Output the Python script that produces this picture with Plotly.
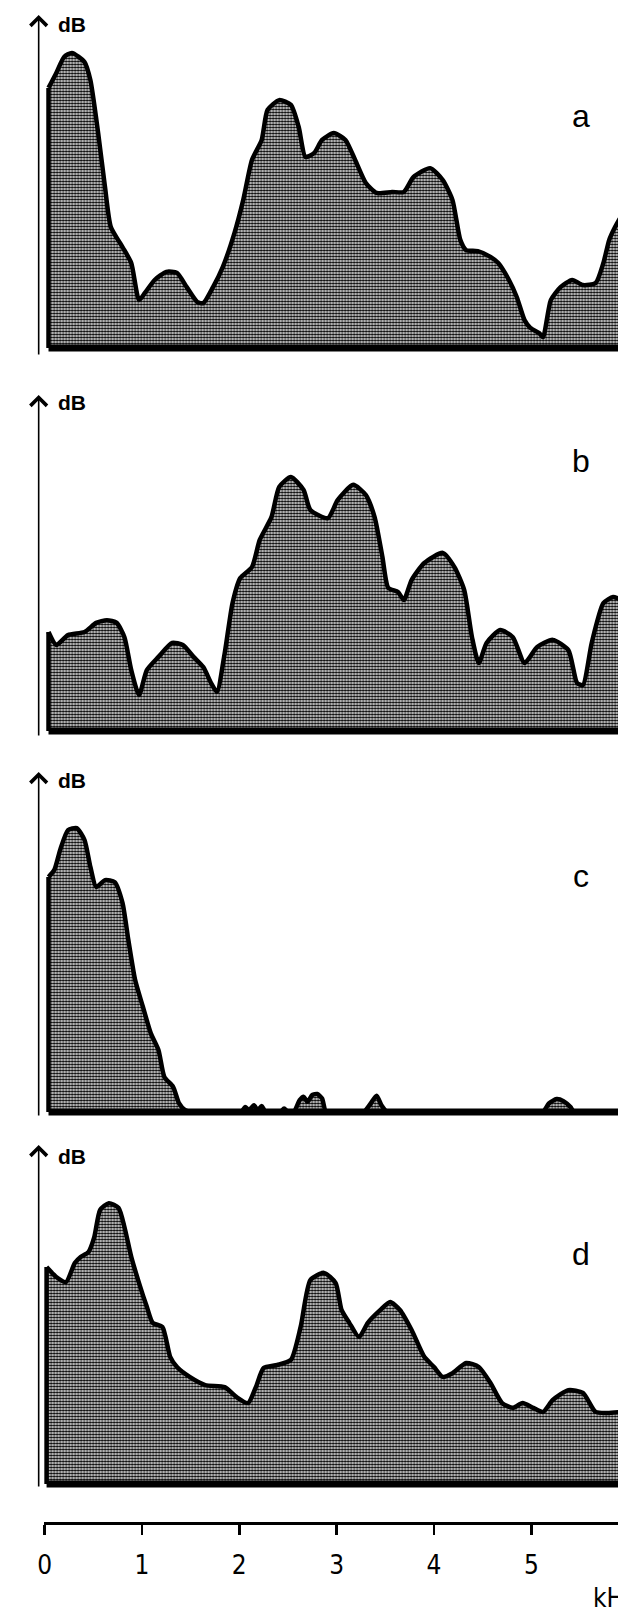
import plotly.graph_objects as go

# ---------------- data (frequency in kHz, level in relative dB) ----------------
freq_a = [0.04, 0.12, 0.20, 0.28, 0.41, 0.47, 0.55, 0.62, 0.68, 0.80,
          0.89, 0.97, 1.03, 1.13, 1.25, 1.36, 1.46, 1.57, 1.63, 1.73,
          1.83, 1.95, 2.04, 2.13, 2.23, 2.29, 2.41, 2.53, 2.61, 2.68,
          2.77, 2.85, 2.97, 3.09, 3.19, 3.30, 3.41, 3.57, 3.69, 3.79,
          3.96, 4.09, 4.19, 4.27, 4.33, 4.45, 4.58, 4.66, 4.77, 4.85, 4.93,
          4.99, 5.08, 5.12, 5.20, 5.30, 5.42, 5.53, 5.66, 5.74, 5.80,
          5.86, 5.93]
db_a = [76.5, 80.9, 85.6, 86.8, 84.1, 78.8, 63.2, 47.4, 35.6, 29.7,
        25.0, 14.1, 16.2, 20.0, 22.4, 22.1, 17.9, 13.5, 13.2, 17.9,
        23.8, 33.8, 43.5, 55.3, 61.2, 70.0, 72.9, 71.5, 65.0, 56.2,
        57.4, 61.2, 63.2, 61.2, 55.3, 48.5, 45.6, 45.9, 45.9, 50.3,
        52.9, 49.4, 43.5, 31.8, 28.8, 28.5, 26.8, 25.0, 20.0, 15.0, 8.2,
        5.9, 4.4, 3.2, 14.1, 17.9, 20.0, 18.5, 19.1, 25.0, 31.8,
        35.6, 39.1]

freq_b = [0.04, 0.12, 0.24, 0.41, 0.53, 0.64, 0.74, 0.82, 0.89, 0.97,
          1.05, 1.17, 1.31, 1.42, 1.53, 1.63, 1.71, 1.77, 1.85, 1.93,
          2.01, 2.13, 2.21, 2.33, 2.41, 2.53, 2.66, 2.73, 2.91, 3.01,
          3.17, 3.30, 3.39, 3.47, 3.53, 3.63, 3.69, 3.77, 3.90, 4.09,
          4.21, 4.31, 4.39, 4.46, 4.54, 4.68, 4.81, 4.93, 5.06, 5.22,
          5.38, 5.47, 5.53, 5.62, 5.74, 5.84, 5.93]
db_b = [29.1, 25.3, 28.2, 29.1, 31.8, 32.6, 31.8, 27.6, 17.9, 10.6,
        17.9, 21.8, 25.9, 25.3, 21.8, 18.8, 14.1, 11.5, 22.9, 37.6,
        45.0, 48.2, 56.2, 62.9, 71.8, 74.7, 70.9, 65.0, 62.6, 67.9,
        72.4, 69.4, 62.9, 51.2, 42.1, 40.9, 38.5, 44.4, 49.4, 52.4,
        48.2, 41.5, 27.6, 20.0, 25.9, 29.7, 27.6, 20.0, 24.7, 26.8,
        23.8, 14.1, 13.5, 25.9, 37.6, 39.4, 38.5]

freq_c = [0.04, 0.10, 0.16, 0.24, 0.33, 0.41, 0.47, 0.53, 0.62, 0.72,
          0.80, 0.86, 0.93, 1.01, 1.09, 1.17, 1.23, 1.32, 1.38, 1.44,
          1.50, 1.60, 1.94, 2.02, 2.06, 2.10, 2.15, 2.19, 2.23, 2.27,
          2.42, 2.46, 2.50, 2.56, 2.62, 2.66, 2.70, 2.75, 2.80, 2.85,
          2.89, 2.96, 3.22, 3.28, 3.35, 3.41, 3.46, 3.52, 3.60, 5.04,
          5.12, 5.18, 5.26, 5.33, 5.40, 5.44, 5.52, 5.93]
db_c = [69.1, 71.2, 77.1, 82.9, 83.5, 80.0, 72.1, 66.2, 68.2, 67.6,
        61.5, 50.6, 38.8, 30.9, 23.2, 18.2, 10.3, 7.4, 2.6, 0.6,
        0.0, 0.0, 0.0, 0.0, 1.5, 0.5, 2.0, 0.5, 1.8, 0.0,
        0.0, 1.0, 0.0, 0.0, 3.5, 4.5, 3.0, 5.0, 5.3, 4.0,
        0.0, 0.0, 0.0, 0.0, 2.5, 4.8, 2.0, 0.0, 0.0, 0.0,
        0.0, 2.5, 3.8, 3.2, 1.5, 0.0, 0.0, 0.0]

freq_d = [0.02, 0.12, 0.22, 0.31, 0.37, 0.45, 0.51, 0.57, 0.66, 0.76,
          0.82, 0.89, 0.97, 1.05, 1.11, 1.21, 1.29, 1.36, 1.49, 1.65,
          1.85, 1.97, 2.09, 2.17, 2.25, 2.39, 2.53, 2.63, 2.73, 2.87,
          2.99, 3.05, 3.13, 3.23, 3.32, 3.45, 3.55, 3.65, 3.77, 3.90,
          4.00, 4.09, 4.19, 4.33, 4.46, 4.58, 4.70, 4.81, 4.91, 5.02,
          5.12, 5.22, 5.38, 5.53, 5.66, 5.78, 5.93]
db_d = [63.8, 60.9, 59.4, 65.0, 66.8, 68.2, 72.6, 80.6, 82.6, 81.2,
        75.6, 66.8, 59.1, 52.1, 47.4, 46.2, 37.4, 34.4, 31.5, 29.1,
        28.5, 25.6, 23.8, 28.5, 34.1, 35.0, 36.5, 46.2, 60.0, 62.1,
        59.1, 51.2, 47.4, 43.2, 47.4, 51.2, 53.5, 51.2, 45.3, 37.4,
        34.4, 31.5, 32.6, 35.6, 34.4, 29.7, 23.8, 22.4, 23.8, 22.4,
        21.2, 24.7, 27.6, 26.8, 21.2, 20.9, 21.2]

tick_vals = [0, 1, 2, 3, 4, 5]
tick_text = ["0", "1", "2", "3", "4", "5"]
panel_labels = ["a", "b", "c", "d"]
y_label = "dB"
x_label = "kHz"

# ---------------- layout geometry (pixels) ----------------
W, H = 618, 1610
PX_PER_DB = 3.4
AXIS_X = 33
NARROW = "Liberation Sans Narrow, DejaVu Sans Condensed, Arial Narrow, Liberation Sans, sans-serif"
panels = [
    dict(freq=freq_a, db=db_a, y0=348, yb=356, yt=15, lab_y=116, dbl_y=25),
    dict(freq=freq_b, db=db_b, y0=731, yb=737, yt=395, lab_y=461, dbl_y=403),
    dict(freq=freq_c, db=db_c, y0=1112, yb=1117, yt=772, lab_y=876, dbl_y=780),
    dict(freq=freq_d, db=db_d, y0=1484, yb=1488, yt=1145, lab_y=1254, dbl_y=1156),
]


def py(p):
    return (H - p) / H


fig = go.Figure()
annotations = []
layout_axes = {}
for i, p in enumerate(panels):
    yname = "y" if i == 0 else f"y{i + 1}"
    ykey = "yaxis" if i == 0 else f"yaxis{i + 1}"
    layout_axes[ykey] = dict(
        domain=[py(p["yb"]), py(p["yt"])],
        range=[-(p["yb"] - p["y0"]) / PX_PER_DB, (p["y0"] - p["yt"]) / PX_PER_DB],
        visible=False, fixedrange=True,
    )
    fig.add_trace(go.Scatter(
        x=p["freq"], y=p["db"], xaxis="x", yaxis=yname, mode="lines",
        line=dict(color="black", width=4.5, shape="spline", smoothing=0.6),
        fill="tozeroy", fillcolor="white",
        fillpattern=dict(shape=".", fgcolor="black", bgcolor="white",
                         size=3, solidity=0.6, fillmode="replace"),
        hoverinfo="skip", showlegend=False,
    ))
    # left edge of the spectrum block
    fig.add_trace(go.Scatter(
        x=[p["freq"][0], p["freq"][0]], y=[p["db"][0], 0],
        xaxis="x", yaxis=yname, mode="lines",
        line=dict(color="black", width=4.5), hoverinfo="skip", showlegend=False,
    ))
    # thick base line
    fig.add_trace(go.Scatter(
        x=[p["freq"][0], p["freq"][-1]], y=[0, 0],
        xaxis="x", yaxis=yname, mode="lines",
        line=dict(color="black", width=7), hoverinfo="skip", showlegend=False,
    ))
    # vertical axis with arrow
    annotations.append(dict(
        x=AXIS_X / W, y=py(p["yt"]), xref="paper", yref="paper",
        showarrow=True, arrowhead=4, arrowsize=2.0, arrowwidth=1.6,
        arrowcolor="black", ax=0, ay=p["yb"] - p["yt"],
        axref="pixel", ayref="pixel", text="", standoff=0,
    ))
    annotations.append(dict(
        x=50 / W, y=py(p["dbl_y"]), xref="paper", yref="paper",
        xanchor="left", yanchor="middle", showarrow=False, text=y_label,
        font=dict(family="Liberation Sans", size=21, color="black", weight="bold"),
    ))
    annotations.append(dict(
        x=581 / W, y=py(p["lab_y"]), xref="paper", yref="paper",
        xanchor="center", yanchor="middle", showarrow=False,
        text=panel_labels[i],
        font=dict(family="Liberation Sans", size=32, color="black"),
    ))

annotations.append(dict(
    x=591 / W, y=py(1598), xref="paper", yref="paper",
    xanchor="left", yanchor="middle", showarrow=False, text=x_label,
    font=dict(family=NARROW, size=26, color="black"),
))

X0_PX, SLOPE = 39.0, 98.3
fig.update_layout(
    width=W, height=H,
    margin=dict(l=0, r=0, t=0, b=0),
    paper_bgcolor="white", plot_bgcolor="white",
    showlegend=False,
    xaxis=dict(
        domain=[38 / W, 1.0],
        range=[(38 - X0_PX) / SLOPE, (W - X0_PX) / SLOPE],
        anchor="free", position=py(1523),
        showline=True, linecolor="black", linewidth=3,
        ticks="outside", ticklen=10, tickwidth=2.5, tickcolor="black",
        tickvals=tick_vals, ticktext=tick_text,
        tickfont=dict(family=NARROW, size=26, color="black"),
        ticklabelstandoff=8,
        showgrid=False, zeroline=False, fixedrange=True,
    ),
    annotations=annotations,
    **layout_axes,
)

fig.write_html(
    "out.html",
    config={"displayModeBar": False, "staticPlot": True},
    post_script="document.body.style.margin='0px';document.body.style.overflow='hidden';",
)
